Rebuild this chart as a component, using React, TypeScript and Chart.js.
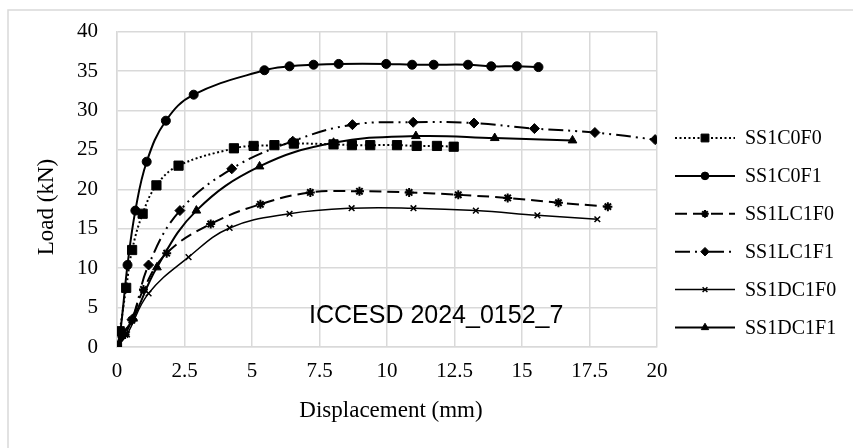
import React, { useEffect, useRef } from "react";
import { Chart, registerables } from "chart.js";
import { drawPoint } from "chart.js/helpers";

Chart.register(...registerables);

// ---------- data ----------
const seriesNames = ["SS1C0F0", "SS1C0F1", "SS1LC1F0", "SS1LC1F1", "SS1DC1F0", "SS1DC1F1"];

const xTickValues = [0, 2.5, 5, 7.5, 10, 12.5, 15, 17.5, 20];
const xTickLabels = ["0", "2.5", "5", "7.5", "10", "12.5", "15", "17.5", "20"];
const yTickValues = [0, 5, 10, 15, 20, 25, 30, 35, 40];
const yTickLabels = ["0", "5", "10", "15", "20", "25", "30", "35", "40"];

const xTitle = "Displacement (mm)";
const yTitle = "Load (kN)";
const watermark = "ICCESD 2024_0152_7";

const c0f0Disp = [0, 0.1, 0.34, 0.56, 0.95, 1.46, 2.28, 4.33, 5.06, 5.83, 6.55, 8.02, 8.7, 9.38, 10.37, 11.1, 11.85, 12.47];
const c0f0Load = [0, 2.0, 7.5, 12.3, 16.9, 20.5, 23.0, 25.2, 25.5, 25.6, 25.8, 25.7, 25.6, 25.6, 25.6, 25.5, 25.5, 25.4];

const c0f1Disp = [0, 0.12, 0.39, 0.68, 1.1, 1.81, 2.84, 5.46, 6.39, 7.28, 8.21, 9.97, 10.93, 11.73, 13.0, 13.86, 14.81, 15.61];
const c0f1Load = [0, 1.85, 10.4, 17.3, 23.5, 28.7, 32.0, 35.1, 35.6, 35.8, 35.9, 35.9, 35.8, 35.8, 35.8, 35.6, 35.6, 35.5];

const lc1f0Disp = [0, 0.3, 0.55, 0.98, 1.84, 3.47, 5.31, 7.16, 8.98, 10.82, 12.64, 14.47, 16.35, 18.18];
const lc1f0Load = [0, 1.6, 3.4, 7.3, 11.9, 15.6, 18.1, 19.6, 19.75, 19.6, 19.3, 18.9, 18.3, 17.8];

const lc1f1Disp = [0, 0.2, 0.56, 1.17, 2.33, 4.25, 6.51, 8.72, 10.97, 13.22, 15.46, 17.7, 19.93];
const lc1f1Load = [0, 1.6, 3.5, 10.4, 17.3, 22.6, 26.1, 28.2, 28.5, 28.4, 27.7, 27.2, 26.3];

const dc1f0Disp = [0, 0.37, 1.17, 2.65, 4.17, 6.39, 8.69, 10.98, 13.29, 15.57, 17.79];
const dc1f0Load = [0, 1.6, 6.8, 11.4, 15.1, 16.9, 17.6, 17.6, 17.3, 16.7, 16.2];

const dc1f1Disp = [0, 0.25, 0.6, 1.48, 2.94, 5.28, 8.02, 11.07, 13.99, 16.87];
const dc1f1Load = [0, 1.8, 3.6, 10.1, 17.3, 22.9, 25.9, 26.75, 26.5, 26.2];

const allDisp = [c0f0Disp, c0f1Disp, lc1f0Disp, lc1f1Disp, dc1f0Disp, dc1f1Disp];
const allLoad = [c0f0Load, c0f1Load, lc1f0Load, lc1f1Load, dc1f0Load, dc1f1Load];

// ---------- styles ----------
const SERIF = "'Liberation Serif', 'Times New Roman', serif";
const GRID = "#d9d9d9";
const seriesStyles = [
  { dash: [2, 2.5], width: 2, point: "rect", r: 6.5, pbw: 1 },
  { dash: [], width: 2, point: "circle", r: 4.5, pbw: 1 },
  { dash: [12, 6], width: 2, point: "star", r: 4.5, pbw: 2 },
  { dash: [15, 5, 2, 5, 2, 5], width: 2, point: "rectRot", r: 5, pbw: 1 },
  { dash: [], width: 1.5, point: "crossRot", r: 4, pbw: 1.5 },
  { dash: [], width: 2, point: "triangle", r: 5, pbw: 1 },
];

const decorPlugin = {
  id: "decor",
  beforeDraw(chart: any) {
    const ctx = chart.ctx;
    ctx.save();
    ctx.fillStyle = "#fff";
    ctx.fillRect(0, 0, chart.width, chart.height);
    ctx.strokeStyle = GRID;
    ctx.lineWidth = 1.5;
    ctx.strokeRect(8, 10, 900, 500);
    ctx.restore();
  },
  afterDraw(chart: any) {
    const ctx = chart.ctx;
    const area = chart.chartArea;
    ctx.save();
    ctx.fillStyle = "#000";
    // x title
    ctx.font = `23px ${SERIF}`;
    ctx.textAlign = "center";
    ctx.textBaseline = "alphabetic";
    ctx.fillText(xTitle, (area.left + area.right) / 2 + 4, 417);
    // y title
    ctx.save();
    ctx.translate(53, 207);
    ctx.rotate(-Math.PI / 2);
    ctx.fillText(yTitle, 0, 0);
    ctx.restore();
    // watermark
    ctx.font = `25px 'Liberation Sans', Arial, sans-serif`;
    ctx.textAlign = "left";
    ctx.fillText(watermark, 309, 323);

    // legend
    const lx0 = 675, lx1 = 735, tx = 745, y0 = 138, dy = 37.9;
    ctx.font = `20px ${SERIF}`;
    ctx.textBaseline = "middle";
    seriesNames.forEach((name, i) => {
      const st = seriesStyles[i];
      const y = y0 + i * dy;
      ctx.strokeStyle = "#000";
      ctx.lineWidth = st.width;
      ctx.setLineDash(st.dash);
      ctx.beginPath();
      ctx.moveTo(lx0, y);
      ctx.lineTo(lx1, y);
      ctx.stroke();
      ctx.setLineDash([]);
      ctx.fillStyle = "#000";
      ctx.lineWidth = st.pbw;
      drawPoint(ctx, { pointStyle: st.point, radius: st.r * 0.85, rotation: 0, borderWidth: st.pbw }, (lx0 + lx1) / 2, y);
      ctx.fillText(name, tx, y + 1);
    });
    ctx.restore();
  },
};

export default function App() {
  const ref = useRef<HTMLCanvasElement | null>(null);
  useEffect(() => {
    if (!ref.current) return;
    const datasets = seriesNames.map((name, i) => {
      const st = seriesStyles[i];
      return {
        label: name,
        data: allDisp[i].map((x, j) => ({ x, y: allLoad[i][j] })),
        borderColor: "#000",
        backgroundColor: "#000",
        borderWidth: st.width,
        borderDash: st.dash,
        pointStyle: st.point,
        pointRadius: st.r,
        pointHoverRadius: st.r,
        pointBorderWidth: st.pbw,
        pointBackgroundColor: "#000",
        pointBorderColor: "#000",
        tension: 0.4,
        fill: false,
      };
    });
    const chart = new Chart(ref.current, {
      type: "line",
      data: { datasets } as any,
      options: {
        responsive: false,
        animation: false,
        devicePixelRatio: 1,
        events: [],
        layout: { padding: { left: 0, right: 196, top: 23, bottom: 0 } },
        plugins: { legend: { display: false }, tooltip: { enabled: false } },
        scales: {
          x: {
            type: "linear",
            min: 0,
            max: 20,
            afterFit: (s: any) => { s.height = 101; },
            afterBuildTicks: (s: any) => { s.ticks = xTickValues.map((v) => ({ value: v })); },
            ticks: {
              padding: 12,
              color: "#000",
              font: { size: 21, family: SERIF },
              maxRotation: 0,
              callback: (v: any) => xTickLabels[xTickValues.indexOf(Number(v))] ?? "",
            },
            grid: { color: GRID, lineWidth: 1.5, drawTicks: false },
            border: { color: GRID, width: 1.5 },
          },
          y: {
            type: "linear",
            min: 0,
            max: 40,
            afterFit: (s: any) => { s.width = 117; },
            afterBuildTicks: (s: any) => { s.ticks = yTickValues.map((v) => ({ value: v })); },
            ticks: {
              padding: 19,
              color: "#000",
              font: { size: 21, family: SERIF },
              callback: (v: any) => yTickLabels[yTickValues.indexOf(Number(v))] ?? "",
            },
            grid: { color: GRID, lineWidth: 1.5, drawTicks: false },
            border: { color: GRID, width: 1.5 },
          },
        },
      } as any,
      plugins: [decorPlugin],
    });
    return () => chart.destroy();
  }, []);
  return (
    <div style={{ position: "fixed", left: 0, top: 0, width: 853, height: 448, background: "#fff" }}>
      <canvas ref={ref} width={853} height={448} style={{ display: "block", width: 853, height: 448 }} />
    </div>
  );
}
